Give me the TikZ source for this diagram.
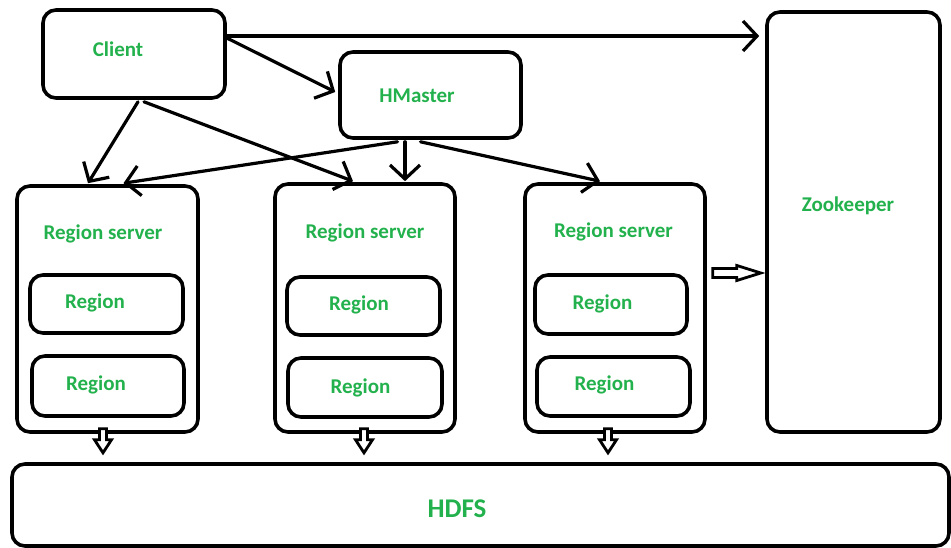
\documentclass[tikz,border=0pt]{standalone}
\usepackage{fontspec}
\setmainfont{Carlito}
\usetikzlibrary{arrows.meta,calc}
\definecolor{labelgreen}{RGB}{34,177,76}

\tikzset{
  box/.style={draw, line width=3.6pt, rounded corners=13pt, inner sep=0pt},
  lbl/.style={text=labelgreen, font=\bfseries\fontsize{21}{25}\selectfont, inner sep=0pt},
  biglbl/.style={text=labelgreen, font=\bfseries\fontsize{27}{32}\selectfont, inner sep=0pt},
  arr/.style={line width=3.2pt, line cap=round,
    -{Straight Barb[length=14pt,width=30pt,line width=3.2pt]}},
  hollow/.style={draw, line width=2.8pt, line join=miter, fill=white},
  % hollow block arrow pointing down, origin at the top of the shaft
  downblock/.pic={
    \path[hollow] (-3.5,0) -- (-3.5,11) -- (-8.5,11) -- (0,24) -- (8.5,11)
      -- (3.5,11) -- (3.5,0) -- cycle;
  },
  % hollow block arrow pointing right, origin at the left end of the shaft
  rightblock/.pic={
    \path[hollow] (0,-4.5) -- (24,-4.5) -- (24,-7.5) -- (48,0) -- (24,7.5)
      -- (24,4.5) -- (0,4.5) -- cycle;
  }
}

\begin{document}
\begin{tikzpicture}[x=1pt,y=-1pt]
\useasboundingbox (0,0) rectangle (951,548);

% boxes
\node[box, minimum width=182pt, minimum height=88pt]  (client)  at (134,54)    {};
\node[box, minimum width=181pt, minimum height=86pt]  (hmaster) at (430.5,95)  {};
\node[box, minimum width=173pt, minimum height=420pt] (zk)      at (853.5,222) {};
\node[box, minimum width=181pt, minimum height=246pt] (rs1)     at (107.5,309) {};
\node[box, minimum width=180pt, minimum height=248pt] (rs2)     at (365,308)   {};
\node[box, minimum width=180pt, minimum height=248pt] (rs3)     at (615,308)   {};
\node[box, minimum width=153pt, minimum height=58pt]  (r1a)     at (106.5,304) {};
\node[box, minimum width=152pt, minimum height=60pt]  (r1b)     at (108,386)   {};
\node[box, minimum width=153pt, minimum height=58pt]  (r2a)     at (363.5,306) {};
\node[box, minimum width=154pt, minimum height=59pt]  (r2b)     at (365,387.5) {};
\node[box, minimum width=152pt, minimum height=59pt]  (r3a)     at (611,304.5) {};
\node[box, minimum width=153pt, minimum height=59pt]  (r3b)     at (613.5,386.5) {};
\node[box, minimum width=937pt, minimum height=82pt]  (hdfs)    at (480.5,505) {};

% labels
\node[lbl] (tclient)  at (118,49)    {Client};
\node[lbl] (thmaster) at (417,96)    {HMaster};
\node[lbl] (tzk)      at (848,206)   {Zookeeper};
\node[lbl] (trs1)     at (103,234)   {Region server};
\node[lbl] (trs2)     at (365,233)   {Region server};
\node[lbl] (trs3)     at (613.5,232) {Region server};
\node[lbl] (tr1a)     at (95,303)    {Region};
\node[lbl] (tr1b)     at (96,385)    {Region};
\node[lbl] (tr2a)     at (359,305)   {Region};
\node[lbl] (tr2b)     at (360.5,388) {Region};
\node[lbl] (tr3a)     at (602.5,304) {Region};
\node[lbl] (tr3b)     at (604.5,385) {Region};
\node[biglbl] (thdfs) at (457,509)   {HDFS};

% requests from the client
\draw[arr] ([yshift=18pt]client.east) -- ([yshift=18pt,xshift=-6pt]client.east -| zk.west);
\draw[arr] ([xshift=-2pt,yshift=17pt]client.east) -- ([xshift=-3pt,yshift=3pt]hmaster.west);
\draw[arr] ([xshift=4pt,yshift=-2pt]client.south) -- ([xshift=-19.5pt,yshift=1pt]rs1.north);
\draw[arr] ([xshift=10pt,yshift=-2pt]client.south) -- ([xshift=-12pt,yshift=1pt]rs2.north);

% assignments from the master
\draw[arr] ([xshift=-33pt,yshift=-2pt]hmaster.south) -- ([xshift=16pt,yshift=1pt]rs1.north);
\draw[arr] ([xshift=-25.5pt,yshift=-2pt]hmaster.south) -- ([xshift=40pt,yshift=1pt]rs2.north);
\draw[arr] ([xshift=-10pt,yshift=-2pt]hmaster.south) -- ([xshift=-15pt,yshift=1pt]rs3.north);

% region servers report to zookeeper and store data in HDFS
\coordinate (rsz) at ([xshift=6pt,yshift=35pt]rs3.east);
\pic at (rsz) {rightblock};
\coordinate (d1) at ([xshift=-4.5pt,yshift=5pt]rs1.south);
\coordinate (d2) at ([xshift=-1pt,yshift=5pt]rs2.south);
\coordinate (d3) at ([xshift=-7pt,yshift=5pt]rs3.south);
\pic at (d1) {downblock};
\pic at (d2) {downblock};
\pic at (d3) {downblock};
\end{tikzpicture}
\end{document}
